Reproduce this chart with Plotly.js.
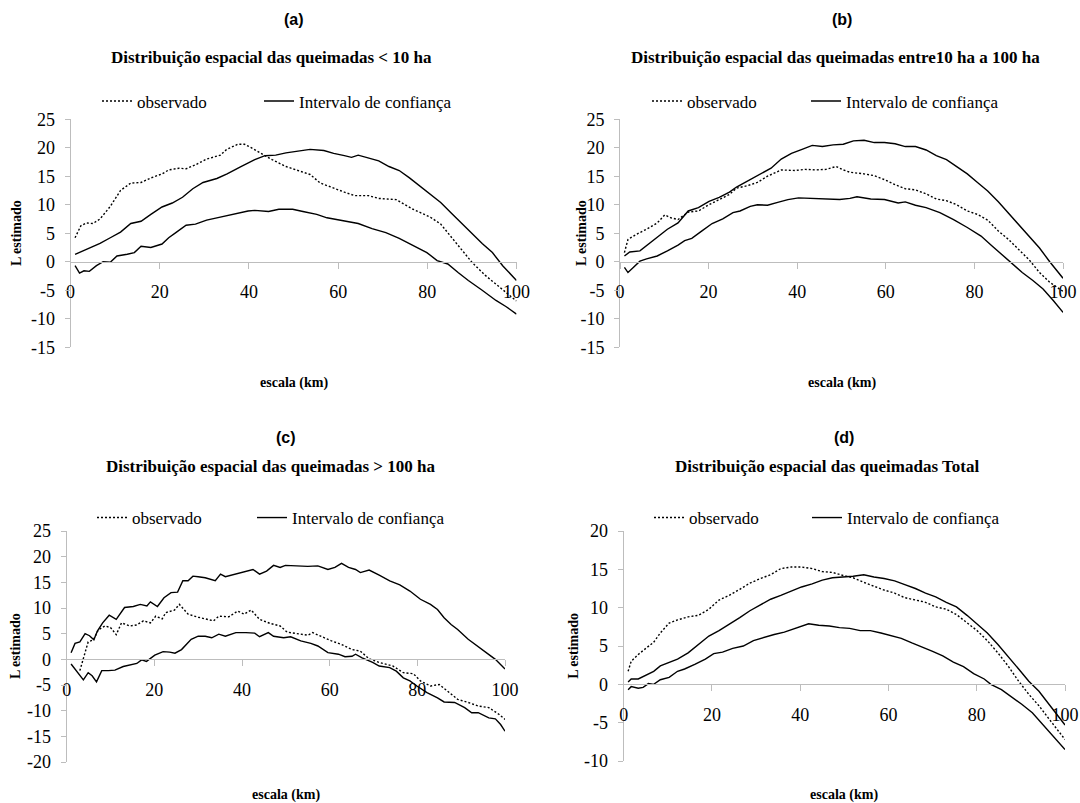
<!DOCTYPE html>
<html><head><meta charset="utf-8">
<script src="https://cdn.plot.ly/plotly-3.0.1.min.js"></script>
<style>html,body{margin:0;padding:0;background:#fff}#chart{width:1080px;height:803px}</style>
</head><body><div id="chart"></div>
<script>
// ---------- data ----------
const seriesNames = ["observado", "Intervalo de confiança"];
const panelLetters = ["(a)", "(b)", "(c)", "(d)"];
const panelTitles = [
  "Distribuição espacial das queimadas &lt; 10 ha",
  "Distribuição espacial das queimadas entre10 ha a 100 ha",
  "Distribuição espacial das queimadas &gt; 100 ha",
  "Distribuição espacial das queimadas Total"
];
const xTitle = "escala (km)";
const yTitle = "L estimado";
const xTickVals = [0, 20, 40, 60, 80, 100];
const xTickText = ["0", "20", "40", "60", "80", "100"];
const yTickValsAB = [-15, -10, -5, 0, 5, 10, 15, 20, 25];
const yTickTextAB = ["-15", "-10", "-5", "0", "5", "10", "15", "20", "25"];
const yTickValsC = [-20, -15, -10, -5, 0, 5, 10, 15, 20, 25];
const yTickTextC = ["-20", "-15", "-10", "-5", "0", "5", "10", "15", "20", "25"];
const yTickValsD = [-10, -5, 0, 5, 10, 15, 20];
const yTickTextD = ["-10", "-5", "0", "5", "10", "15", "20"];

// (a) < 10 ha
const aObsX = [1,2.3,3.5,5,6.6,8.9,11.2,13.5,15.8,18,20.5,22,24.3,25.9,28,30.5,33.6,35,37.5,39,40.5,42.9,45.2,48.3,50.6,53.7,56,58.3,61.4,63.7,66.8,69.1,73,76.8,80.7,83,84.6,86.9,90,93,96,98.5,100];
const aObsY = [4.2,6.3,6.8,6.7,7.5,9.7,12.5,13.8,13.9,14.7,15.4,16.1,16.4,16.3,17,18,18.7,19.7,20.6,20.6,20,18.9,17.9,16.7,16.1,15.3,13.8,13.1,12.2,11.6,11.6,11.1,10.9,9.2,7.8,6.6,5.1,2.9,-0.1,-2.4,-4.4,-5.9,-6.9];
const aUpX = [1,3.5,6.6,8.9,11.2,13.5,15.8,18,20.5,22.8,25.1,27.4,29.7,32.8,35.1,38.2,41.3,43.6,46,48.3,51.4,53.7,56.8,59,61.4,63,64.5,66.8,69.1,71.4,73.7,76,78.4,80.7,83,85.3,87.6,90,92.3,94.6,96.9,100];
const aUpY = [1.3,2.2,3.2,4.2,5.2,6.7,7.1,8.3,9.6,10.3,11.3,12.8,13.9,14.6,15.4,16.7,17.9,18.6,18.7,19.1,19.5,19.7,19.5,19,18.6,18.3,18.7,18.2,17.7,16.7,16,14.7,13.2,11.8,10.4,8.6,6.8,5.1,3.2,1.6,-0.7,-3.3];
const aLoX = [1,2,3,4.2,5.8,7.3,8.9,10.4,12.7,14.3,15.8,18,20.5,22,23.6,25.9,28,30.5,32.8,35.1,37.5,39.8,41.3,44.4,46.7,49.8,52.1,55.2,57.5,61.4,64.5,67.6,70.7,73.7,76.8,79.9,82.2,84.6,86.9,89.2,92.3,95.4,97.7,100];
const aLoY = [-0.7,-2,-1.6,-1.7,-0.7,0,-0.1,1,1.3,1.6,2.7,2.5,3.1,4.2,5.1,6.4,6.6,7.3,7.7,8.1,8.6,8.9,9,8.8,9.2,9.2,8.8,8.3,7.7,7.1,6.7,5.8,5.1,4.1,2.8,1.6,0.2,-0.4,-1.9,-3.3,-5,-6.8,-7.9,-9.2];

// (b) 10 ha a 100 ha
const bObsX = [1,1.8,3.7,6,8.4,10.1,11.5,13.1,15.4,17.7,20.1,22.4,24.7,26.3,28.6,31,33.3,36.4,39.5,41.8,44.2,46.5,48.8,50.4,51.9,55.1,57.4,59.7,62.1,64.4,66.7,69.1,71.4,73.7,76,78.4,80.7,83,85.4,87.7,90,92.4,94.7,97,99.4,100];
const bObsY = [1.6,3.9,4.8,5.7,6.8,8.2,7.7,7.4,8.7,8.9,10,10.9,11.8,12.9,13.3,13.9,15,16.1,16,16.2,16.1,16.2,16.7,16.1,15.7,15.4,15.1,14.4,13.5,12.8,12.6,11.9,11,10.7,10,8.9,8.3,7.3,5.4,3.9,2.2,0.3,-1.9,-3.6,-4.9,-5.2];
const bUpX = [1,2.2,4.5,6,8.4,10.7,13.1,15.4,17.7,20.1,22.4,24.7,26.3,28.6,31.7,34.1,36.4,38.7,41.1,43.4,45.7,48.1,50.4,52.7,55.1,57.4,59.7,62.1,64.4,66.7,69.1,71.4,73.7,76,78.4,80.7,83,85.4,87.7,90,92.4,94.7,97,100];
const bUpY = [1,1.7,1.9,2.8,4.4,5.7,6.8,8.9,9.5,10.6,11.3,12.2,13.1,14.1,15.3,16.4,18,19,19.7,20.4,20.2,20.5,20.6,21.2,21.3,20.9,20.9,20.7,20.2,20.2,19.6,18.6,17.9,16.7,15.4,13.9,12.4,10.5,8.5,6.6,4.5,2.4,0,-2.9];
const bLoX = [1,1.8,3,4.5,6,8.4,10.7,13.1,14.6,16.2,18.5,20.8,23.2,25.5,27.1,29.4,31,33.3,35.6,37.9,40.3,43.4,46.5,49.6,51.9,53.5,56.6,59.7,62.8,64.4,66.7,69.1,72.2,75.3,78.4,81.5,83.8,86.2,88.5,90.8,93.2,95.5,97.8,100];
const bLoY = [-1,-1.9,-1,0.1,0.5,1,1.9,2.9,3.7,4.1,5.4,6.7,7.5,8.6,8.9,9.7,10,9.9,10.4,10.9,11.2,11.1,11.1,10.9,11.1,11.4,11,10.9,10.3,10.5,9.9,9.5,8.6,7.4,6,4.5,2.9,1.3,-0.2,-1.9,-3.3,-4.8,-6.8,-8.9];

// (c) > 100 ha
const cObsX = [3,4.9,6.1,7.2,8.7,10,11.3,12.5,14.4,16,17.5,19.1,20.3,21.8,22.6,24.6,25.7,27.7,30,32.3,33.5,34.7,37,39,40.5,42.1,44,46.4,48.7,50.3,52.6,55,56.1,58.1,60.4,62.7,65.1,67,69,71.3,74.4,76.8,79.1,80.7,83,85,86.9,89.2,91.6,93.9,96.3,98.6,100];
const cObsY = [-2.2,3.4,3.8,5.7,6.5,6.2,4.8,7.1,6.5,6.7,7.5,7.1,8.4,7.9,9.1,9.6,10.7,8.8,8.2,7.8,7.5,8.4,8.3,9.4,8.8,9.6,7.8,7,6.5,5.3,5,4.7,5.2,4.4,3.6,2.9,1.9,1.6,0.1,-0.6,-1.3,-2.6,-2.8,-4.2,-5.2,-4.9,-6.2,-7.8,-8.4,-9.1,-9.4,-10.7,-11.7];
const cUpX = [1,1.9,3,4.2,5.2,6.2,7,8.2,9.7,11.3,13.2,15.2,16.8,18.3,19.1,20.7,22.2,23.8,25.3,26.5,27.7,28.8,30,31.6,33.9,35.1,36.2,38.6,40.9,42.5,44,45.6,47.2,48.7,49.9,52.6,55,57.3,59.6,61.2,62.7,64.3,65.9,67,69,71.3,73.7,76,78.3,80.7,83,84.6,86.1,87.7,89.2,91.6,93.9,96.3,97.8,100];
const cUpY = [1.3,3.1,3.4,5,4.6,3.8,5.5,7.1,8.6,7.8,10.1,10.3,10.7,10.4,11.2,10.3,12,13,13.1,15.3,15.3,16.2,16.1,15.9,15.3,16.6,16.1,16.6,17.2,17.5,16.6,17.2,18.3,17.9,18.3,18.2,18.1,18.2,17.5,17.9,18.7,17.9,17.5,16.9,17.4,16.4,15.3,14.5,13.3,11.7,10.7,9.7,8.1,6.8,5.8,3.9,2.5,1,0,-1.9];
const cLoX = [1,2.3,3.8,4.9,5.8,6.8,8,9.5,11,12.9,14.8,16,17.1,18.2,20.1,22,23.5,24.7,26.2,28.4,30,31.6,33.1,34.7,36.2,38.6,40.9,42.9,44,46,47.2,49.5,51.1,53.4,55.7,57.3,59.6,62,63.5,65.1,65.9,67.4,69.8,71.3,73.7,75.2,76.8,78.3,79.9,82.2,84.6,86.1,88.5,90.8,92.4,93.9,96.3,97.8,99,100];
const cLoY = [-0.9,-2.4,-4,-2.6,-3.2,-4.4,-2.2,-2.2,-2.1,-1.4,-1.1,-0.8,-0.1,-0.4,0.8,1.5,1.4,1.2,1.9,3.9,4.5,4.5,4.2,4.9,4.5,5.2,5.2,5.1,4.4,5.2,4.5,4.2,4.4,3.6,3.1,2.6,1.3,1,0.5,0.6,1,0.3,-0.6,-1.3,-1.6,-2.3,-3.6,-4.2,-5.2,-6.5,-7.5,-8.3,-8.4,-9.4,-10.4,-10.4,-11.4,-11.6,-12.7,-14];

// (d) Total
const dObsX = [1,1.7,3.3,5.2,6.8,8.3,10.3,12.2,14.6,16.9,19.3,21.6,23.9,26.3,28.6,31,33.3,35.6,38,40.3,42.7,45,47.3,49.7,52,54.4,56.7,59,61.4,63.7,66.1,68.4,70.7,73.1,75.4,77.8,80.1,82.4,84.8,87.1,89.5,91.8,94.1,96.5,98.8,100];
const dObsY = [1.7,3,3.9,4.8,5.5,6.7,8,8.4,8.8,9,9.8,11,11.6,12.4,13.2,13.8,14.3,15.1,15.3,15.3,15.1,14.7,14.6,14.2,13.9,13.3,12.8,12.3,11.9,11.3,11,10.7,10.1,9.8,9.1,8,7,5.7,4.1,2.4,0.4,-1.3,-2.8,-4.6,-6.3,-7.2];
const dUpX = [1,1.7,3.3,5.2,6.8,8.3,10.3,12.2,14.6,16.9,19.3,21.6,23.9,26.3,28.6,31,33.3,35.6,38,40.3,42.7,45,47.3,49.7,52,54.4,56.7,59,61.4,63.7,66.1,68.4,70.7,73.1,75.4,77.8,80.1,82.4,84.8,87.1,89.5,91.8,94.1,96.5,98.8,100];
const dUpY = [0.3,0.7,0.7,1.3,1.7,2.4,2.9,3.3,4.1,5.2,6.3,7,7.8,8.7,9.6,10.4,11.1,11.6,12.2,12.7,13.1,13.6,13.9,14,14.1,14.3,14,13.8,13.5,13,12.5,11.9,11.4,10.7,10.1,9,7.8,6.7,5.2,3.7,2,0.4,-0.9,-2.7,-4.4,-5.3];
const dLoX = [1,1.7,3.3,4.4,5.6,6.8,8.3,10.3,12.2,13.8,16.1,18.5,20.4,22.4,24.7,27.1,29.4,31.7,34.1,36.4,38.8,41.9,44.2,46.6,48.9,51.2,53.6,55.9,58.3,60.6,62.9,65.3,67.6,70,72.3,74.7,77,79.3,81.7,83.2,85.6,87.9,90.2,92.6,94.9,97.3,100];
const dLoY = [-0.7,-0.3,-0.5,-0.4,0.1,0,0.6,0.9,1.7,2,2.6,3.3,4,4.2,4.7,5,5.7,6.1,6.5,6.8,7.3,7.9,7.7,7.6,7.4,7.3,7,7,6.7,6.4,6,5.4,4.9,4.3,3.7,2.9,2.3,1.4,0.7,0,-0.7,-1.6,-2.6,-3.7,-5.2,-6.7,-8.5];

// ---------- layout geometry (pixels) ----------
const W = 1080, H = 803;
const SERIF = "Liberation Serif, Times New Roman, serif";
const SANS = "Liberation Sans, Arial, sans-serif";
const AXIS_GRAY = "#bdbdbd";

const panels = [
  {xpx:[70.6,516.5], ytop:119.2, ybot:347.2, yr:[-15,25], tv:yTickValsAB, tt:yTickTextAB,
   obs:[aObsX,aObsY], up:[aUpX,aUpY], lo:[aLoX,aLoY],
   letter:[293.5,19.5], title:[271,57.5], leg:[105,267,101.5], xt:[293.5,383], yt:[16,233]},
  {xpx:[620,1063], ytop:119.2, ybot:347.2, yr:[-15,25], tv:yTickValsAB, tt:yTickTextAB,
   obs:[bObsX,bObsY], up:[bUpX,bUpY], lo:[bLoX,bLoY],
   letter:[841.5,19.5], title:[835,57.5], leg:[655,814,101.5], xt:[841.5,383], yt:[581,233]},
  {xpx:[66.7,505], ytop:531, ybot:762, yr:[-20,25], tv:yTickValsC, tt:yTickTextC,
   obs:[cObsX,cObsY], up:[cUpX,cUpY], lo:[cLoX,cLoY],
   letter:[286,437.5], title:[270,466], leg:[100,260,518], xt:[286,795], yt:[15,646]},
  {xpx:[623.7,1065], ytop:531, ybot:761, yr:[-10,20], tv:yTickValsD, tt:yTickTextD,
   obs:[dObsX,dObsY], up:[dUpX,dUpY], lo:[dLoX,dLoY],
   letter:[844,437.5], title:[827,466], leg:[657,815,518], xt:[844,795], yt:[572.7,646]}
];

const px = v => v / W;
const py = v => 1 - v / H;
const LEG_OFFSET = 8;  // legend box origin to start of the line sample

const traces = [];
const layout = {
  width: W, height: H,
  margin: {l:0, r:0, t:0, b:0},
  paper_bgcolor: "#ffffff", plot_bgcolor: "rgba(0,0,0,0)",
  showlegend: true,
  annotations: [],
  font: {family: SERIF, color: "#000"}
};

function legendSpec(xPix, yPix) {
  return {
    orientation: "h",
    x: px(xPix - LEG_OFFSET), y: py(yPix),
    xanchor: "left", yanchor: "middle",
    bgcolor: "rgba(0,0,0,0)", borderwidth: 0,
    font: {family: SERIF, size: 17, color: "#000"},
    itemwidth: 30, itemclick: false, itemdoubleclick: false
  };
}

panels.forEach((p, i) => {
  const n = i === 0 ? "" : String(i + 1);
  const xa = "x" + n, ya = "y" + n;
  const lgObs = i === 0 ? "legend" : "legend" + (2 * i + 1);
  const lgCi = "legend" + (2 * i + 2);
  const yDom = [py(p.ybot), py(p.ytop)];
  const zeroPos = yDom[0] + (0 - p.yr[0]) / (p.yr[1] - p.yr[0]) * (yDom[1] - yDom[0]);

  layout["xaxis" + n] = {
    domain: [px(p.xpx[0]), px(p.xpx[1])],
    range: [0, 100],
    anchor: "free", position: zeroPos,
    showgrid: false, zeroline: false,
    showline: true, linecolor: AXIS_GRAY, linewidth: 1,
    ticks: "outside", ticklen: 6, tickcolor: AXIS_GRAY, tickwidth: 1,
    tickmode: "array", tickvals: xTickVals, ticktext: xTickText,
    ticklabelstandoff: 8,
    tickfont: {family: SERIF, size: 18, color: "#000"},
    fixedrange: true
  };
  layout["yaxis" + n] = {
    domain: yDom,
    range: p.yr,
    anchor: xa,
    showgrid: false, zeroline: false,
    showline: true, linecolor: AXIS_GRAY, linewidth: 1,
    ticks: "outside", ticklen: 5, tickcolor: AXIS_GRAY, tickwidth: 1,
    tickmode: "array", tickvals: p.tv, ticktext: p.tt,
    ticklabelstandoff: 6,
    tickfont: {family: SERIF, size: 18, color: "#000"},
    fixedrange: true
  };
  layout[lgObs] = legendSpec(p.leg[0], p.leg[2]);
  layout[lgCi] = legendSpec(p.leg[1], p.leg[2]);

  traces.push({
    type: "scatter", mode: "lines", x: p.obs[0], y: p.obs[1],
    xaxis: xa, yaxis: ya, legend: lgObs, name: seriesNames[0], showlegend: true,
    line: {color: "#000", width: 1.4, dash: "2px,2px"}, hoverinfo: "skip"
  });
  traces.push({
    type: "scatter", mode: "lines", x: p.up[0], y: p.up[1],
    xaxis: xa, yaxis: ya, legend: lgCi, name: seriesNames[1], showlegend: true,
    legendgroup: "ci" + i,
    line: {color: "#000", width: 1.4}, hoverinfo: "skip"
  });
  traces.push({
    type: "scatter", mode: "lines", x: p.lo[0], y: p.lo[1],
    xaxis: xa, yaxis: ya, legend: lgCi, name: seriesNames[1], showlegend: false,
    legendgroup: "ci" + i,
    line: {color: "#000", width: 1.4}, hoverinfo: "skip"
  });

  const ann = layout.annotations;
  ann.push({text: "<b>" + panelLetters[i] + "</b>", xref: "paper", yref: "paper",
    x: px(p.letter[0]), y: py(p.letter[1]), xanchor: "center", yanchor: "middle",
    showarrow: false, font: {family: SANS, size: 16, color: "#000"}});
  ann.push({text: "<b>" + panelTitles[i] + "</b>", xref: "paper", yref: "paper",
    x: px(p.title[0]), y: py(p.title[1]), xanchor: "center", yanchor: "middle",
    showarrow: false, font: {family: SERIF, size: 17, color: "#000"}});
  ann.push({text: "<b>" + xTitle + "</b>", xref: "paper", yref: "paper",
    x: px(p.xt[0]), y: py(p.xt[1]), xanchor: "center", yanchor: "middle",
    showarrow: false, font: {family: SERIF, size: 14, color: "#000"}});
  ann.push({text: "<b>" + yTitle + "</b>", xref: "paper", yref: "paper",
    x: px(p.yt[0]), y: py(p.yt[1]), xanchor: "center", yanchor: "middle",
    textangle: -90, showarrow: false, font: {family: SERIF, size: 14, color: "#000"}});
});

Plotly.newPlot("chart", traces, layout, {displayModeBar: false, staticPlot: true});
</script>
</body></html>
